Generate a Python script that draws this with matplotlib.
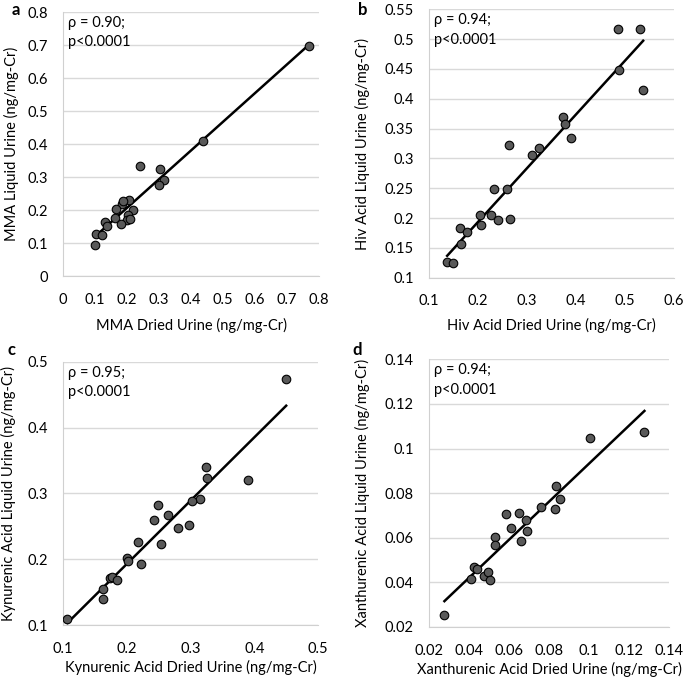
import numpy as np
import matplotlib
matplotlib.use("Agg")
import matplotlib.pyplot as plt
from matplotlib.ticker import FuncFormatter

plt.rcParams['font.family'] = ['Lato', 'DejaVu Sans']

# Panel a: MMA
mma_dried = [0.769, 0.437, 0.242, 0.303, 0.315, 0.299, 0.206, 0.185, 0.188, 0.167, 0.219,
             0.204, 0.162, 0.200, 0.180, 0.131, 0.139, 0.102, 0.123, 0.101, 0.210]
mma_liquid = [0.696, 0.410, 0.334, 0.324, 0.292, 0.276, 0.229, 0.219, 0.226, 0.203, 0.199,
              0.184, 0.176, 0.169, 0.159, 0.164, 0.151, 0.127, 0.124, 0.095, 0.173]

# Panel b: Hiv acid
hiv_dried = [0.486, 0.531, 0.488, 0.537, 0.373, 0.378, 0.390, 0.325, 0.310, 0.263, 0.233,
             0.260, 0.205, 0.227, 0.207, 0.241, 0.266, 0.163, 0.178, 0.165, 0.137, 0.149]
hiv_liquid = [0.517, 0.517, 0.448, 0.414, 0.370, 0.357, 0.335, 0.317, 0.306, 0.323, 0.249,
              0.249, 0.205, 0.205, 0.188, 0.196, 0.198, 0.183, 0.176, 0.156, 0.127, 0.125]

# Panel c: Kynurenic acid
kyn_dried = [0.450, 0.107, 0.324, 0.326, 0.390, 0.315, 0.303, 0.249, 0.265, 0.243, 0.281,
             0.297, 0.217, 0.253, 0.200, 0.202, 0.222, 0.173, 0.177, 0.185, 0.163, 0.162]
kyn_liquid = [0.473, 0.110, 0.340, 0.324, 0.321, 0.292, 0.288, 0.282, 0.267, 0.260, 0.247,
              0.252, 0.226, 0.223, 0.202, 0.198, 0.193, 0.172, 0.174, 0.168, 0.155, 0.140]

# Panel d: Xanthurenic acid
xan_dried = [0.0277, 0.1005, 0.1277, 0.0837, 0.0857, 0.0828, 0.0758, 0.0587, 0.0648, 0.0687,
             0.0608, 0.0692, 0.0662, 0.0532, 0.0530, 0.0423, 0.0442, 0.0412, 0.0475, 0.0497, 0.0503]
xan_liquid = [0.0255, 0.1048, 0.1073, 0.0834, 0.0775, 0.0731, 0.0738, 0.0707, 0.0713, 0.0681,
              0.0644, 0.0632, 0.0586, 0.0602, 0.0566, 0.0469, 0.0460, 0.0414, 0.0427, 0.0447, 0.0412]

panels = [
    dict(letter='a', x=mma_dried, y=mma_liquid, rho='ρ = 0.90;',
         xlabel='MMA Dried Urine (ng/mg-Cr)', ylabel='MMA Liquid Urine (ng/mg-Cr)',
         xlim=(0, 0.8), xstep=0.1, ylim=(0, 0.8), ystep=0.1,
         pos=[0.092, 0.5935, 0.3737, 0.3888], ylc=-0.172, xlc=-0.159, lpos=(12, 10)),
    dict(letter='b', x=hiv_dried, y=hiv_liquid, rho='ρ = 0.94;',
         xlabel='Hiv Acid Dried Urine (ng/mg-Cr)', ylabel='Hiv Acid Liquid Urine (ng/mg-Cr)',
         xlim=(0.1, 0.6), xstep=0.1, ylim=(0.1, 0.55), ystep=0.05,
         pos=[0.6263, 0.591, 0.3577, 0.3953], ylc=-0.241, xlc=-0.150, lpos=(358, 10)),
    dict(letter='c', x=kyn_dried, y=kyn_liquid, rho='ρ = 0.95;',
         xlabel='Kynurenic Acid Dried Urine (ng/mg-Cr)', ylabel='Kynurenic Acid Liquid Urine (ng/mg-Cr)',
         xlim=(0.1, 0.5), xstep=0.1, ylim=(0.1, 0.5), ystep=0.1,
         pos=[0.092, 0.0791, 0.3723, 0.3882], ylc=-0.185, xlc=-0.132, lpos=(8, 350)),
    dict(letter='d', x=xan_dried, y=xan_liquid, rho='ρ = 0.94;',
         xlabel='Xanthurenic Acid Dried Urine (ng/mg-Cr)', ylabel='Xanthurenic Acid Liquid Urine (ng/mg-Cr)',
         xlim=(0.02, 0.14), xstep=0.02, ylim=(0.02, 0.14), ystep=0.02,
         pos=[0.6263, 0.0766, 0.3504, 0.3943], ylc=-0.246, xlc=-0.131, lpos=(352, 350)),
]

W, H = 685, 679
fig = plt.figure(figsize=(W / 100, H / 100), dpi=100)
fmt = FuncFormatter(lambda v, p: ('%.2f' % v).rstrip('0').rstrip('.') if abs(v) > 1e-12 else '0')

for p in panels:
    ax = fig.add_axes(p['pos'])
    x = np.array(p['x']); y = np.array(p['y'])
    ax.set_xlim(*p['xlim']); ax.set_ylim(*p['ylim'])
    ax.set_xticks(np.arange(p['xlim'][0], p['xlim'][1] + p['xstep'] / 2, p['xstep']))
    ax.set_yticks(np.arange(p['ylim'][0], p['ylim'][1] + p['ystep'] / 2, p['ystep']))
    ax.xaxis.set_major_formatter(fmt); ax.yaxis.set_major_formatter(fmt)
    ax.grid(axis='y', color='#d9d9d9', lw=1)
    ax.set_axisbelow(True)
    for s in ['top', 'right']:
        ax.spines[s].set_visible(False)
    for s in ['left', 'bottom']:
        ax.spines[s].set_color('#d0d0d0')
    ax.tick_params(length=0, labelsize=10.5, colors='black')
    ax.tick_params(axis='x', pad=12)
    ax.tick_params(axis='y', pad=11)
    # regression line
    m, b = np.polyfit(x, y, 1)
    xx = np.array([x.min(), x.max()])
    ax.plot(xx, m * xx + b, color='black', lw=1.8, zorder=2)
    ax.scatter(x, y, s=38, facecolor='#595959', edgecolor='black', linewidth=0.8, zorder=3)
    ax.text(0.02, 0.985, p['rho'] + '\np<0.0001', transform=ax.transAxes, ha='left', va='top',
            fontsize=10.5, linespacing=1.5)
    ax.set_xlabel(p['xlabel'], fontsize=10.5)
    ax.set_ylabel(p['ylabel'], fontsize=10.5)
    ax.yaxis.set_label_coords(p['ylc'], 0.5)
    ax.xaxis.set_label_coords(0.5, p['xlc'])
    fig.text(p['lpos'][0] / W, 1 - p['lpos'][1] / H, p['letter'], fontsize=12, fontweight='bold',
             ha='left', va='center')

fig.savefig('out.png', dpi=100)
